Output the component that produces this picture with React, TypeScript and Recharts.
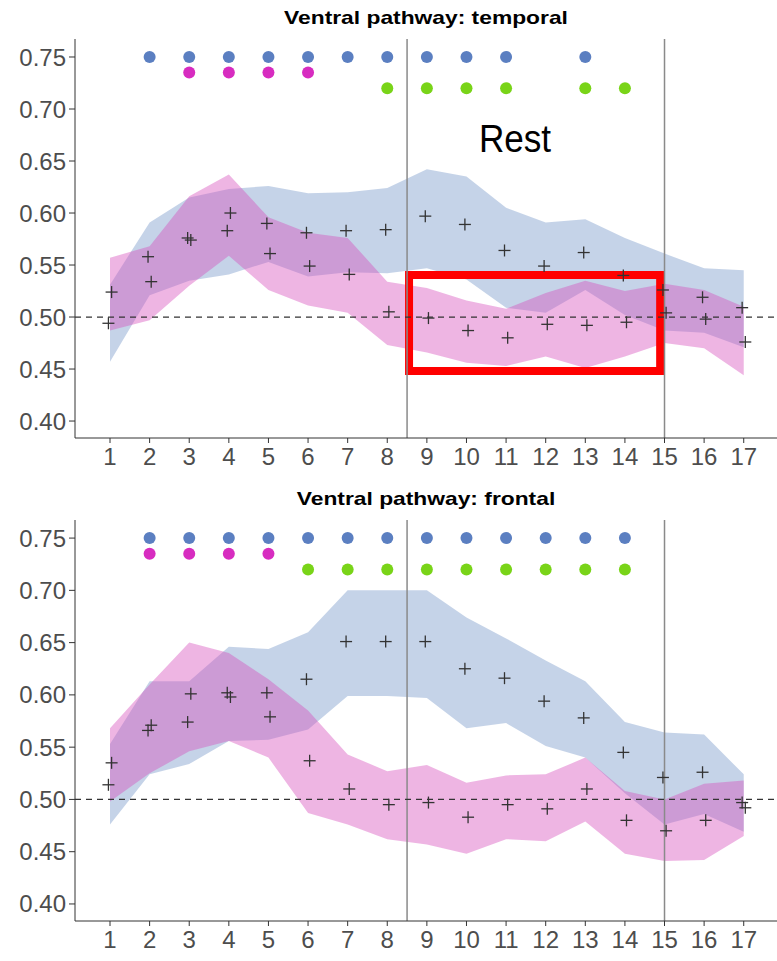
import React from "react";
import {
  Area,
  ComposedChart,
  ReferenceArea,
  ReferenceLine,
  Scatter,
  XAxis,
  YAxis,
} from "recharts";

const positions = [1, 2, 3, 4, 5, 6, 7, 8, 9, 10, 11, 12, 13, 14, 15, 16, 17];
const yTicks = [0.4, 0.45, 0.5, 0.55, 0.6, 0.65, 0.7, 0.75];

// Ventral pathway: temporal
const tempBlueMean = [0.494, 0.558, 0.576, 0.583, 0.59, 0.581, 0.583, 0.584, 0.597, 0.589, 0.564, 0.549, 0.562, 0.54, 0.526, 0.519, 0.509];
const tempBlueHigh = [0.531, 0.591, 0.615, 0.623, 0.626, 0.619, 0.62, 0.624, 0.642, 0.635, 0.605, 0.591, 0.594, 0.576, 0.561, 0.547, 0.545];
const tempBlueLow = [0.457, 0.521, 0.535, 0.541, 0.553, 0.539, 0.543, 0.542, 0.547, 0.536, 0.509, 0.504, 0.526, 0.502, 0.487, 0.485, 0.471];
const tempPinkMean = [0.524, 0.534, 0.574, 0.6, 0.561, 0.549, 0.541, 0.505, 0.499, 0.487, 0.48, 0.493, 0.492, 0.495, 0.504, 0.498, 0.476];
const tempPinkHigh = [0.557, 0.568, 0.616, 0.637, 0.596, 0.581, 0.576, 0.534, 0.528, 0.516, 0.508, 0.523, 0.535, 0.525, 0.532, 0.526, 0.51];
const tempPinkLow = [0.487, 0.497, 0.53, 0.559, 0.526, 0.511, 0.504, 0.473, 0.466, 0.456, 0.453, 0.462, 0.451, 0.462, 0.475, 0.47, 0.444];
const tempSigBlue = [2, 3, 4, 5, 6, 7, 8, 9, 10, 11, 13];
const tempSigPink = [3, 4, 5, 6];
const tempSigGreen = [8, 9, 10, 11, 13, 14];

// Ventral pathway: frontal
const frontBlueMean = [0.514, 0.566, 0.574, 0.602, 0.602, 0.615, 0.651, 0.651, 0.651, 0.625, 0.616, 0.594, 0.578, 0.545, 0.521, 0.526, 0.497];
const frontBlueHigh = [0.553, 0.613, 0.613, 0.646, 0.644, 0.66, 0.7, 0.7, 0.7, 0.674, 0.654, 0.633, 0.613, 0.574, 0.564, 0.562, 0.524];
const frontBlueLow = [0.476, 0.524, 0.534, 0.556, 0.557, 0.567, 0.599, 0.599, 0.597, 0.568, 0.573, 0.551, 0.54, 0.506, 0.476, 0.486, 0.469];
const frontPinkMean = [0.535, 0.571, 0.601, 0.598, 0.579, 0.537, 0.51, 0.495, 0.497, 0.483, 0.495, 0.491, 0.51, 0.48, 0.47, 0.48, 0.492];
const frontPinkHigh = [0.568, 0.61, 0.65, 0.64, 0.615, 0.585, 0.543, 0.527, 0.533, 0.516, 0.523, 0.524, 0.54, 0.508, 0.5, 0.515, 0.518];
const frontPinkLow = [0.498, 0.525, 0.546, 0.556, 0.54, 0.487, 0.476, 0.462, 0.457, 0.448, 0.462, 0.46, 0.479, 0.448, 0.441, 0.442, 0.465];
const frontSigBlue = [2, 3, 4, 5, 6, 7, 8, 9, 10, 11, 12, 13, 14];
const frontSigPink = [2, 3, 4, 5];
const frontSigGreen = [6, 7, 8, 9, 10, 11, 12, 13, 14];

const sigLevelBlue = 0.75;
const sigLevelPink = 0.735;
const sigLevelGreen = 0.72;

const BLUE_BAND = "rgb(115,149,200)";
const PINK_BAND = "rgb(214,76,187)";
const BLUE_DOT = "#5b7fc1";
const PINK_DOT = "#d72cc0";
const GREEN_DOT = "#79d418";
const TICK_FONT = { fontFamily: "Liberation Sans, Arial, sans-serif", fontSize: 24, fill: "#4d4d4d" };

const Plus = (props: any) => {
  const { cx, cy } = props;
  if (cx == null || cy == null) return null;
  return (
    <g stroke="#333" strokeWidth={1.3}>
      <line x1={cx - 6} y1={cy} x2={cx + 6} y2={cy} />
      <line x1={cx} y1={cy - 6} x2={cx} y2={cy + 6} />
    </g>
  );
};

const Dot = (color: string) => (props: any) => {
  const { cx, cy } = props;
  if (cx == null || cy == null) return null;
  return <circle cx={cx} cy={cy} r={6} fill={color} />;
};

type PanelProps = {
  height: number;
  marginTop: number;
  blueMean: number[];
  blueLow: number[];
  blueHigh: number[];
  pinkMean: number[];
  pinkLow: number[];
  pinkHigh: number[];
  sigBlue: number[];
  sigPink: number[];
  sigGreen: number[];
  showBox?: boolean;
};

function Panel(p: PanelProps) {
  const bands = positions.map((x, i) => ({
    x,
    blue: [p.blueLow[i], p.blueHigh[i]],
    pink: [p.pinkLow[i], p.pinkHigh[i]],
  }));
  const blueMeans = positions.map((x, i) => ({ x: x - 0.04, y: p.blueMean[i] }));
  const pinkMeans = positions.map((x, i) => ({ x: x + 0.04, y: p.pinkMean[i] }));
  const blueSig = p.sigBlue.map((x) => ({ x, y: sigLevelBlue }));
  const pinkSig = p.sigPink.map((x) => ({ x, y: sigLevelPink }));
  const greenSig = p.sigGreen.map((x) => ({ x, y: sigLevelGreen }));

  return (
    <ComposedChart width={777} height={p.height} data={bands} margin={{ top: p.marginTop, right: 0, bottom: 0, left: 0 }}>
      <XAxis
        dataKey="x"
        type="number"
        domain={[0.116, 17.84]}
        allowDataOverflow
        ticks={positions}
        interval={0}
        height={40}
        tick={TICK_FONT}
        tickSize={5}
        tickMargin={5}
        stroke="#333"
        tickLine={{ stroke: "#333" }}
      />
      <YAxis
        type="number"
        domain={[0.3837, 0.7673]}
        allowDataOverflow
        ticks={yTicks}
        width={75}
        tick={TICK_FONT}
        tickFormatter={(v: number) => v.toFixed(2)}
        tickSize={6}
        tickMargin={3}
        stroke="#333"
        tickLine={{ stroke: "#333" }}
      />
      <Area dataKey="blue" type="linear" stroke="none" fill={BLUE_BAND} fillOpacity={0.414} isAnimationActive={false} activeDot={false} dot={false} />
      <Area dataKey="pink" type="linear" stroke="none" fill={PINK_BAND} fillOpacity={0.414} isAnimationActive={false} activeDot={false} dot={false} />
      <ReferenceLine x={8.5} stroke="#8a8a8a" strokeWidth={1.5} />
      <ReferenceLine x={15} stroke="#8a8a8a" strokeWidth={1.5} />
      <ReferenceLine y={0.5} stroke="#333" strokeWidth={1.3} strokeDasharray="6 5" />
      <Scatter data={blueMeans} dataKey="y" shape={<Plus />} isAnimationActive={false} />
      <Scatter data={pinkMeans} dataKey="y" shape={<Plus />} isAnimationActive={false} />
      <Scatter data={blueSig} dataKey="y" shape={Dot(BLUE_DOT)} isAnimationActive={false} />
      <Scatter data={pinkSig} dataKey="y" shape={Dot(PINK_DOT)} isAnimationActive={false} />
      <Scatter data={greenSig} dataKey="y" shape={Dot(GREEN_DOT)} isAnimationActive={false} />
      {p.showBox && (
        <ReferenceArea x1={8.55} x2={14.89} y1={0.448} y2={0.5404} fill="none" stroke="#ff0000" strokeWidth={8} ifOverflow="visible" />
      )}
    </ComposedChart>
  );
}

const titleStyle: React.CSSProperties = {
  position: "absolute",
  left: 75,
  width: 702,
  textAlign: "center",
  fontFamily: "Liberation Sans, Arial, sans-serif",
  fontWeight: "bold",
  fontSize: 19,
  color: "#000",
  lineHeight: "20px",
  transform: "scaleX(1.2)",
  transformOrigin: "351px 50%",
};

export default function App() {
  return (
    <div style={{ position: "absolute", left: 0, top: 0, width: 777, height: 961, background: "#fff", overflow: "hidden" }}>
      <div style={{ position: "absolute", left: 0, top: 0 }}>
        <Panel
          height={478}
          marginTop={39}
          blueMean={tempBlueMean}
          blueLow={tempBlueLow}
          blueHigh={tempBlueHigh}
          pinkMean={tempPinkMean}
          pinkLow={tempPinkLow}
          pinkHigh={tempPinkHigh}
          sigBlue={tempSigBlue}
          sigPink={tempSigPink}
          sigGreen={tempSigGreen}
          showBox
        />
      </div>
      <div style={{ position: "absolute", left: 0, top: 478 }}>
        <Panel
          height={483}
          marginTop={42}
          blueMean={frontBlueMean}
          blueLow={frontBlueLow}
          blueHigh={frontBlueHigh}
          pinkMean={frontPinkMean}
          pinkLow={frontPinkLow}
          pinkHigh={frontPinkHigh}
          sigBlue={frontSigBlue}
          sigPink={frontSigPink}
          sigGreen={frontSigGreen}
        />
      </div>
      <div style={{ ...titleStyle, top: 8 }}>Ventral pathway: temporal</div>
      <div style={{ ...titleStyle, top: 489 }}>Ventral pathway: frontal</div>
      <div
        style={{
          position: "absolute",
          left: 455,
          width: 120,
          top: 116,
          textAlign: "center",
          fontFamily: "Liberation Sans, Arial, sans-serif",
          fontSize: 39,
          lineHeight: "46px",
          color: "#000",
          transform: "scaleX(0.9)",
        }}
      >
        Rest
      </div>
    </div>
  );
}
